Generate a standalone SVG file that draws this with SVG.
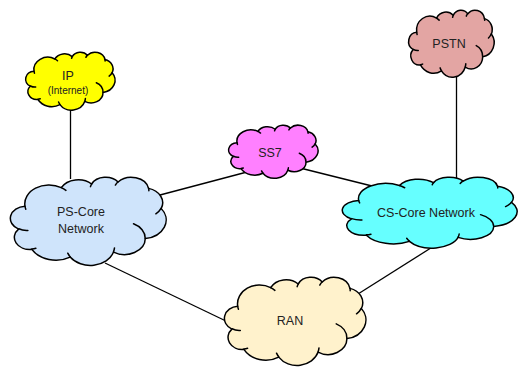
<svg xmlns="http://www.w3.org/2000/svg" xmlns:xlink="http://www.w3.org/1999/xlink" width="518" height="367" viewBox="0 0 518 367">
<style>
.cl{stroke:#000;stroke-width:1.5;stroke-linejoin:round}
.hk{fill:none;stroke:#000;stroke-width:1.5;stroke-linecap:round}
.ln{stroke:#000;stroke-width:1.3;fill:none}
text{font-family:"Liberation Sans",Arial,sans-serif;font-size:12.5px;fill:#222;text-anchor:middle}
.sm{font-size:10px}
</style>
<defs>
<path id="cloud" vector-effect="non-scaling-stroke" d="M39,143.7 A67.53,91.9 0 0 1 140.05,52.01 A53.33,72.67 0 0 1 224.56,34.31 A43.65,59.45 0 0 1 298.33,24.8 A48.57,65.95 0 0 1 383.18,55.74 A53.33,72.73 0 0 1 418.19,154.58 A67.75,92.2 0 0 1 374.03,301.99 A57.85,78.67 0 0 1 285.54,368.1 A67.52,92.15 0 0 1 164.8,392.63 A77.2,105.43 0 0 1 58.01,354.69 A43.6,59.18 0 0 1 21.12,255.44 A43.45,59.45 0 0 1 39,143.7 Z"/>
<path id="hooks" vector-effect="non-scaling-stroke" d="M46.93,261.77 A43.45,59.45 0 0 1 21.59,253.8 M69.28,348.99 A43.6,59.18 0 0 1 58.2,352.8 M164.78,390.9 A67.52,92.15 0 0 1 158.09,373.47 M288.27,347.51 A67.52,92.15 0 0 1 285.6,366.61 M341.29,229.54 A57.85,78.67 0 0 1 373.81,300.9 M417.98,153.54 A53.33,72.73 0 0 1 403.49,180.31 M383.24,54.26 A48.57,65.95 0 0 1 384.01,66.91 M290.78,39.52 A48.57,65.95 0 0 1 298.2,23.4 M221.41,47.2 A43.65,59.45 0 0 1 225,33.31 M140,51.92 A67.53,91.9 0 0 1 153,65.41 M41.27,157.89 A67.53,91.9 0 0 1 39.01,143.71"/>
</defs>
<g id="connectors">
<line class="ln" x1="70.5" y1="108" x2="70.5" y2="179"/>
<line class="ln" x1="456.5" y1="76" x2="456.5" y2="179"/>
<line class="ln" x1="160" y1="195" x2="247" y2="172"/>
<line class="ln" x1="300" y1="168" x2="376" y2="187"/>
<line class="ln" x1="105" y1="263" x2="228" y2="322"/>
<line class="ln" x1="434" y1="246" x2="358" y2="294"/>
</g>
<g id="ip">
<g transform="translate(26,52) scale(0.206,0.134)"><use href="#cloud" class="cl" fill="#ffff00"/><use href="#hooks" class="hk"/></g>
<text x="68" y="80">IP</text>
<text class="sm" x="68" y="94">(Internet)</text>
</g>
<g id="pstn">
<g transform="translate(409,10) scale(0.197,0.155)"><use href="#cloud" class="cl" fill="#e3a5a3"/><use href="#hooks" class="hk"/></g>
<text x="449" y="48">PSTN</text>
</g>
<g id="ss7">
<g transform="translate(229,125) scale(0.206,0.123)"><use href="#cloud" class="cl" fill="#ff80ff"/><use href="#hooks" class="hk"/></g>
<text x="270" y="157">SS7</text>
</g>
<g id="ps-core">
<g transform="translate(11,177) scale(0.359,0.204)"><use href="#cloud" class="cl" fill="#cfe4fb"/><use href="#hooks" class="hk"/></g>
<text x="81" y="216">PS-Core</text>
<text x="81" y="233">Network</text>
</g>
<g id="cs-core">
<g transform="translate(343,177) scale(0.403,0.164)"><use href="#cloud" class="cl" fill="#66ffff"/><use href="#hooks" class="hk"/></g>
<text x="426" y="217">CS-Core Network</text>
</g>
<g id="ran">
<g transform="translate(225,277) scale(0.326,0.204)"><use href="#cloud" class="cl" fill="#fff2cc"/><use href="#hooks" class="hk"/></g>
<text x="290" y="325">RAN</text>
</g>
</svg>
